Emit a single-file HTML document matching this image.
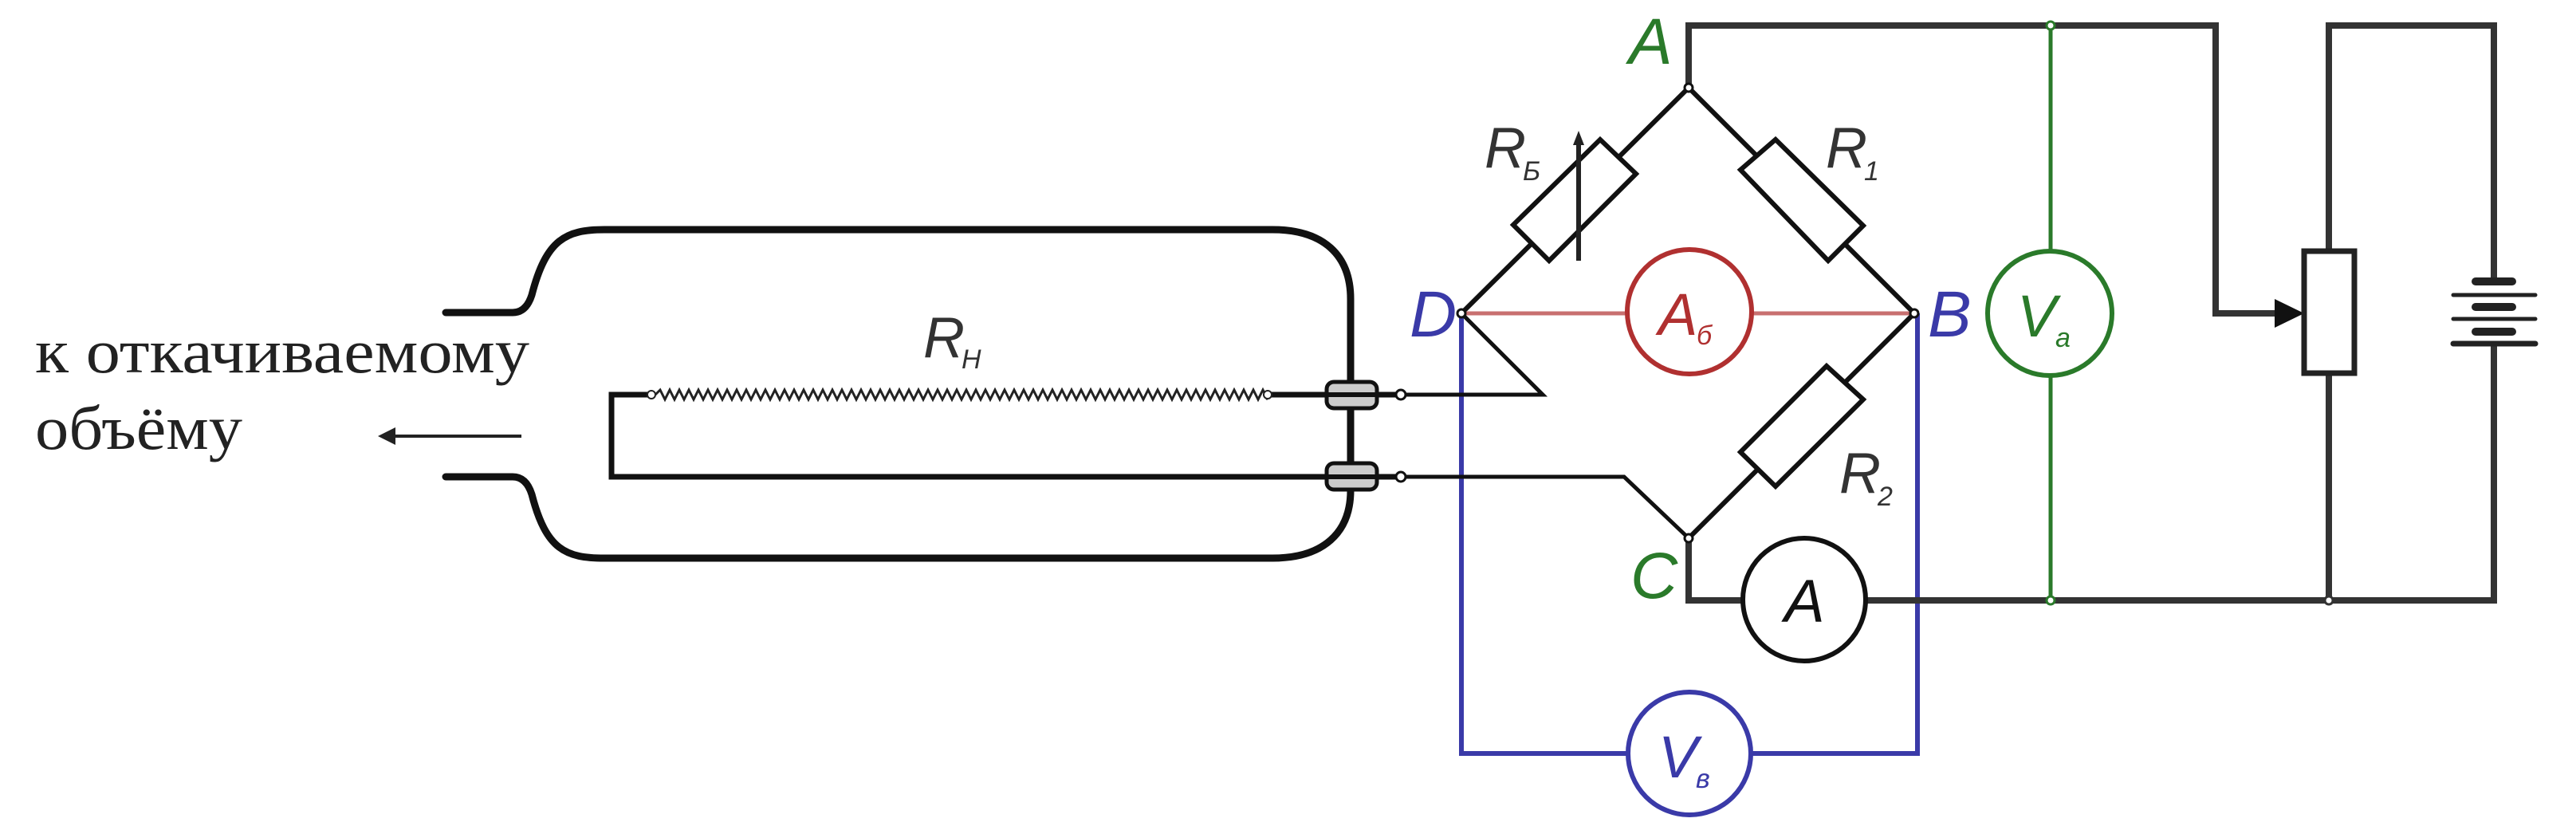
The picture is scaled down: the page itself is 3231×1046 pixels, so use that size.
<!DOCTYPE html>
<html><head><meta charset="utf-8"><style>
html,body{margin:0;padding:0;background:#fff;}
svg{display:block;}
.lbl{font-family:"Liberation Sans",sans-serif;font-style:italic;}
</style></head><body>
<svg id="svg" width="3231" height="1046" viewBox="0 0 3231 1046" xmlns="http://www.w3.org/2000/svg">
<rect width="3231" height="1046" fill="#fff"/>
<g fill="none" stroke="#111" stroke-width="9" stroke-linecap="round" stroke-linejoin="round">
<path d="M559 392 H643 Q660 392 667 370 C685 300 710 288 758 288 H1596 C1660 288 1694 320 1694 375 V480"/>
<path d="M559 598 H643 Q660 598 667 620 C685 690 710 700 758 700 H1596 C1660 700 1694 668 1694 615 V614"/>
<path d="M1694 512 V580"/>
</g>
<g fill="none" stroke="#111" stroke-width="7">
<path d="M817 495 H767 V598 H1757"/>
<path d="M1590 495 H1757"/>
</g>
<path id="filament" fill="none" stroke="#222" stroke-width="3" d=""/>
<circle cx="817" cy="495" r="5" fill="#fff" stroke="#222" stroke-width="2"/>
<circle cx="1590" cy="495" r="5" fill="#fff" stroke="#222" stroke-width="2"/>
<rect x="1664" y="479" width="63" height="33" rx="9" fill="#ccc" stroke="#111" stroke-width="5"/>
<rect x="1664" y="581" width="63" height="33" rx="9" fill="#ccc" stroke="#111" stroke-width="5"/>
<line x1="1664" y1="495" x2="1727" y2="495" stroke="#111" stroke-width="6"/>
<line x1="1664" y1="598" x2="1727" y2="598" stroke="#111" stroke-width="6"/>
<text class="lbl" x="1158" y="448" font-size="72" fill="#333">R</text>
<text class="lbl" x="1206" y="462" font-size="34" fill="#333">Н</text>
<text x="44" y="467" font-family="'Liberation Serif',serif" font-size="78" fill="#222" textLength="620" lengthAdjust="spacingAndGlyphs">к откачиваемому</text>
<text x="44" y="563" font-family="'Liberation Serif',serif" font-size="78" fill="#222" textLength="260" lengthAdjust="spacingAndGlyphs">объёму</text>
<g>
<line x1="490" y1="547" x2="654" y2="547" stroke="#222" stroke-width="4"/>
<polygon points="474,547 496,536 496,558" fill="#222"/>
</g>
<g fill="none" stroke="#3a3aa8" stroke-width="6">
<path d="M1833 393 V945 H2042 M2196 945 H2405 V393"/>
</g>
<g fill="none" stroke="#111" stroke-width="5" stroke-linejoin="miter">
<path d="M1757 495 H1935 L1833 393"/>
<path d="M1757 598 H2037 L2118 675"/>
</g>
<circle cx="1757" cy="495" r="6" fill="#fff" stroke="#111" stroke-width="3"/>
<circle cx="1757" cy="598" r="6" fill="#fff" stroke="#111" stroke-width="3"/>
<g fill="none" stroke="#111" stroke-width="6">
<path d="M2118 110 L1833 393"/>
<path d="M2118 110 L2401 393"/>
<path d="M2401 393 L2118 675"/>
</g>
<polygon points="1898,282 2007,175 2052,218 1943,327" fill="#fff" stroke="#111" stroke-width="6"/>
<g>
<line x1="1980" y1="178" x2="1980" y2="327" stroke="#222" stroke-width="6"/>
<polygon points="1980,164 1973,182 1987,182" fill="#222"/>
</g>
<polygon points="2183,213 2227,175 2337,283 2293,327" fill="#fff" stroke="#111" stroke-width="6"/>
<polygon points="2183,567 2291,459 2337,501 2227,610" fill="#fff" stroke="#111" stroke-width="6"/>
<line x1="1833" y1="393" x2="2040" y2="393" stroke="#c87070" stroke-width="5"/>
<line x1="2198" y1="393" x2="2401" y2="393" stroke="#c87070" stroke-width="5"/>
<circle cx="2119" cy="391" r="78" fill="#fff" stroke="#b03030" stroke-width="6"/>
<text class="lbl" x="2080" y="420" font-size="74" fill="#b03030">A</text>
<text class="lbl" x="2128" y="432" font-size="34" fill="#b03030">б</text>
<g fill="none" stroke="#333" stroke-width="8" stroke-linejoin="miter">
<path d="M2118 110 V32 H2779 V393 H2870"/>
<path d="M2921 315 V32 H3128 V353"/>
<path d="M2118 675 V753 H2185 M2340 753 H3128 V431"/>
<path d="M2921 468 V753"/>
</g>
<polygon points="2890,393 2853,375 2853,411" fill="#111"/>
<rect x="2890" y="315" width="63" height="153" fill="#fff" stroke="#222" stroke-width="7"/>
<g stroke="#222" stroke-linecap="round">
<line x1="3105" y1="353" x2="3151" y2="353" stroke-width="10"/>
<line x1="3077" y1="370" x2="3180" y2="370" stroke-width="5"/>
<line x1="3105" y1="385" x2="3151" y2="385" stroke-width="10"/>
<line x1="3077" y1="400" x2="3180" y2="400" stroke-width="5"/>
<line x1="3105" y1="416" x2="3151" y2="416" stroke-width="10"/>
<line x1="3077" y1="431" x2="3180" y2="431" stroke-width="7"/>
</g>
<line x1="2572" y1="32" x2="2572" y2="315" stroke="#2a7a2a" stroke-width="5"/>
<line x1="2572" y1="471" x2="2572" y2="753" stroke="#2a7a2a" stroke-width="5"/>
<circle cx="2571" cy="393" r="78" fill="#fff" stroke="#2a7a2a" stroke-width="6"/>
<text class="lbl" x="2530" y="422" font-size="74" fill="#2a7a2a">V</text>
<text class="lbl" x="2578" y="435" font-size="34" fill="#2a7a2a">а</text>
<circle cx="2572" cy="32" r="5" fill="#fff" stroke="#2a7a2a" stroke-width="3"/>
<circle cx="2572" cy="753" r="5" fill="#fff" stroke="#2a7a2a" stroke-width="3"/>
<circle cx="2921" cy="753" r="5" fill="#fff" stroke="#333" stroke-width="3"/>
<circle cx="2263" cy="752" r="77" fill="#fff" stroke="#111" stroke-width="6"/>
<text class="lbl" x="2238" y="780" font-size="76" fill="#111">A</text>
<circle cx="2119" cy="945" r="77" fill="#fff" stroke="#3a3aa8" stroke-width="6"/>
<text class="lbl" x="2080" y="975" font-size="74" fill="#3a3aa8">V</text>
<text class="lbl" x="2127" y="988" font-size="34" fill="#3a3aa8">в</text>
<circle cx="2118" cy="110" r="5" fill="#fff" stroke="#111" stroke-width="3"/>
<circle cx="1833" cy="393" r="5" fill="#fff" stroke="#111" stroke-width="3"/>
<circle cx="2401" cy="393" r="5" fill="#fff" stroke="#111" stroke-width="3"/>
<circle cx="2118" cy="675" r="5" fill="#fff" stroke="#111" stroke-width="3"/>
<text class="lbl" x="2043" y="80" font-size="82" fill="#2a7a2a">A</text>
<text class="lbl" x="2418" y="422" font-size="82" fill="#3a3aa8">B</text>
<text class="lbl" x="1768" y="422" font-size="82" fill="#3a3aa8">D</text>
<text class="lbl" x="2045" y="750" font-size="82" fill="#2a7a2a">C</text>
<text class="lbl" x="1862" y="210" font-size="72" fill="#333">R</text>
<text class="lbl" x="1910" y="226" font-size="34" fill="#333">Б</text>
<text class="lbl" x="2290" y="210" font-size="72" fill="#333">R</text>
<text class="lbl" x="2338" y="226" font-size="34" fill="#333">1</text>
<text class="lbl" x="2307" y="618" font-size="72" fill="#333">R</text>
<text class="lbl" x="2355" y="634" font-size="34" fill="#333">2</text>
</svg>
<script>
var d = "M822 495";
var x = 822, up = true;
while (x < 1585) { x += 6; d += " L" + x + " " + (up ? 489 : 501); up = !up; }
d += " L1585 495";
document.getElementById('filament').setAttribute('d', d);
</script>
</body></html>
